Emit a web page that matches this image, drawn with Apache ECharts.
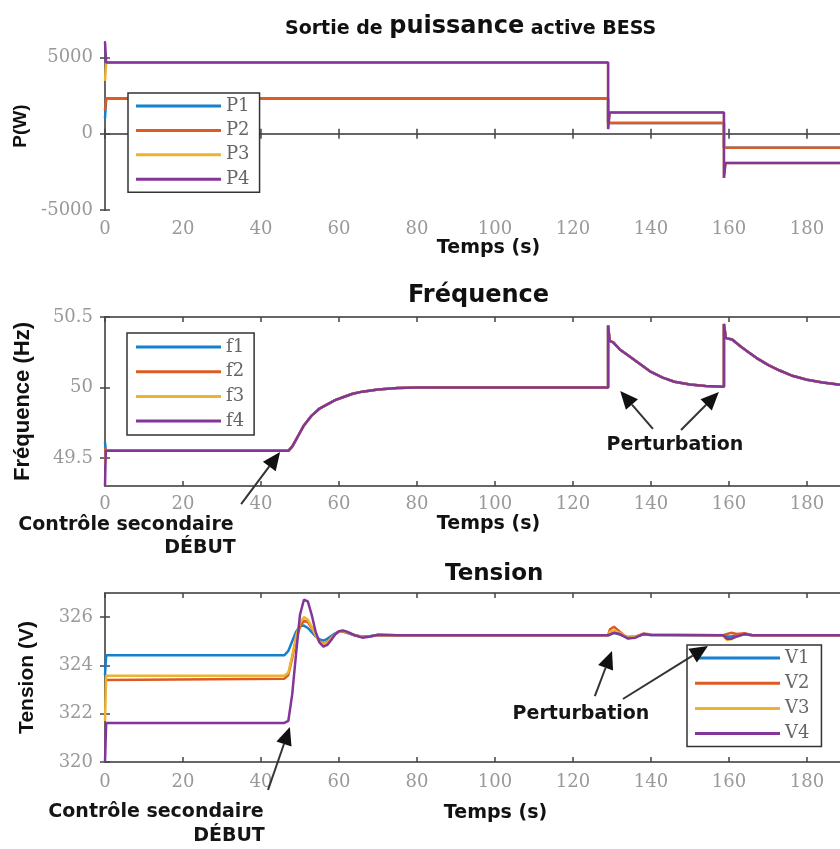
<!DOCTYPE html>
<html>
<head>
<meta charset="utf-8">
<script src="https://cdn.jsdelivr.net/npm/echarts@6/dist/echarts.min.js"></script>
<style>
  html, body { margin: 0; padding: 0; overflow: hidden; background: #fff; }
  #chart { width: 900px; height: 849px; }
</style>
</head>
<body>
<div id="chart"></div>
<script>
// couleurs MATLAB
const colors = ['#1580cc', '#dd5a22', '#edb22f', '#84359a'];

// axe des temps
const xTicks = [0, 20, 40, 60, 80, 100, 120, 140, 160, 180];

// puissance active (W)
const tP12 = [0, 0.3, 129, 129, 158.7, 158.7, 190];
const p1 = [1000, 2300, 2300, 700, 700, -930, -930];
const p2 = [1500, 2300, 2300, 700, 700, -930, -930];
const tP34 = [0, 0.3, 129, 129, 129.4, 158.7, 158.7, 159.1, 190];
const p3 = [3450, 4650, 4650, 300, 1380, 1380, -2900, -1930, -1930];
const p4 = [6000, 4650, 4650, 300, 1380, 1380, -2900, -1930, -1930];
const pTicks = [-5000, 0, 5000];

// fréquence (Hz)
const fStart = [49.61, 49.575, 49.45, 49.3];
const tF = [0.2, 47, 48, 49, 50, 51, 53, 55, 57, 59, 61, 63.5, 66, 70, 75, 80, 90,
  129, 129, 129.4, 130.3, 132, 134, 137, 140, 143, 146, 150, 154, 158.7,
  158.7, 159.2, 160.8, 163, 165, 167, 170, 173, 176, 180, 184, 188, 190];
const fVal = [49.55, 49.55, 49.58, 49.63, 49.68, 49.73, 49.8, 49.85, 49.88, 49.91, 49.93, 49.955, 49.97, 49.985, 49.995, 50, 50,
  50, 50.44, 50.33, 50.32, 50.27, 50.23, 50.17, 50.11, 50.07, 50.04, 50.02, 50.01, 50.005,
  50.45, 50.35, 50.34, 50.29, 50.25, 50.21, 50.16, 50.12, 50.085, 50.055, 50.035, 50.02, 50.015];
const fTicks = [49.5, 50, 50.5];

// tension (V)
const tV = [0, 0.3, 46, 47, 48, 49, 50, 51, 52, 53, 54, 55, 56, 57, 58, 59, 60, 61, 62, 64, 66, 68, 70, 75,
  129, 129.5, 130.5, 132, 134, 136, 138, 140, 158.5, 159.5, 160.5, 162, 164, 166, 190];
const v1 = [323.6, 324.42, 324.42, 324.6, 325.0, 325.4, 325.62, 325.65, 325.55, 325.38, 325.2, 325.08, 325.03, 325.1, 325.22, 325.33, 325.4, 325.4, 325.35, 325.25, 325.2, 325.22, 325.26, 325.25,
  325.25, 325.3, 325.35, 325.28, 325.18, 325.2, 325.28, 325.26, 325.25, 325.2, 325.2, 325.25, 325.28, 325.25, 325.25];
const v2 = [323.4, 323.45, 323.45, 323.6, 324.3, 325.1, 325.6, 325.85, 325.8, 325.55, 325.25, 325.0, 324.9, 324.98, 325.15, 325.3, 325.4, 325.42, 325.38, 325.25, 325.18, 325.2, 325.26, 325.25,
  325.25, 325.5, 325.6, 325.4, 325.13, 325.18, 325.32, 325.28, 325.25, 325.3, 325.35, 325.3, 325.33, 325.25, 325.25];
const v3 = [321.7, 323.57, 323.57, 323.7, 324.4, 325.2, 325.75, 326.0, 325.9, 325.6, 325.25, 324.98, 324.88, 324.95, 325.12, 325.3, 325.4, 325.43, 325.38, 325.25, 325.18, 325.2, 325.26, 325.25,
  325.25, 325.4, 325.45, 325.35, 325.15, 325.18, 325.3, 325.27, 325.25, 325.05, 325.08, 325.2, 325.3, 325.25, 325.25];
const v4 = [320.0, 321.62, 321.62, 321.7, 322.8, 324.5, 326.1, 326.72, 326.65, 326.1, 325.4, 324.95, 324.78, 324.85, 325.05, 325.28, 325.42, 325.45, 325.4, 325.25, 325.15, 325.2, 325.27, 325.25,
  325.25, 325.3, 325.35, 325.3, 325.12, 325.15, 325.3, 325.26, 325.25, 325.1, 325.1, 325.2, 325.3, 325.25, 325.25];
const vTicks = [320, 322, 324, 326];

// flèches d'annotation [gridIndex, départ, pointe] en coordonnées des données
const arrows = [
  [1, [34.9, 49.172], [44.9, 49.541]],
  [1, [140.5, 49.705], [132.1, 49.975]],
  [1, [147.7, 49.698], [157.4, 49.967]],
  [2, [41.8, 318.84], [47.4, 321.45]],
  [2, [125.6, 322.73], [130.0, 324.6]],
  [2, [132.8, 322.61], [154.6, 324.8]]
];

const zip = (t, v) => t.map((x, i) => [x, v[i]]);

const chart = echarts.init(document.getElementById('chart'));

const serif = 'DejaVu Serif';
const sans = 'DejaVu Sans';
const grids = [
  { left: 105, top: 42, width: 741, height: 168 },
  { left: 105, top: 317, width: 741, height: 169 },
  { left: 105, top: 593, width: 741, height: 169 }
];

const tickStyle = { inside: true, length: 5, lineStyle: { color: '#444', width: 1.5 } };
const lineAxis = { lineStyle: { color: '#666', width: 2 } };
const plain = v => String(v);

const bottomX = (g, nameGap, margin, shift) => ({
  type: 'value', gridIndex: g, position: 'bottom', min: 0, max: 190,
  name: 'Temps (s)', nameLocation: 'middle', nameGap,
  nameTextStyle: { fontFamily: sans, fontWeight: 'bold', fontSize: 19, color: '#111', padding: [0, 0, 0, shift] },
  axisLine: lineAxis,
  axisTick: Object.assign({ customValues: xTicks }, tickStyle),
  axisLabel: { customValues: xTicks, margin, fontFamily: serif, fontSize: 18, color: '#999', formatter: plain },
  splitLine: { show: false }
});
const topX = g => ({
  type: 'value', gridIndex: g, position: 'top', min: 0, max: 190,
  axisLine: lineAxis,
  axisTick: Object.assign({ customValues: xTicks }, tickStyle),
  axisLabel: { show: false }, splitLine: { show: false }
});
const leftY = (g, min, max, ticks, name, nameGap, nameSize) => ({
  type: 'value', gridIndex: g, position: 'left', min, max,
  name, nameLocation: 'middle', nameGap,
  nameTextStyle: { fontFamily: 'Liberation Sans', fontWeight: 'bold', fontSize: nameSize, color: '#111' },
  axisLine: Object.assign({ show: true }, lineAxis),
  axisTick: Object.assign({ show: true, customValues: ticks }, tickStyle),
  axisLabel: { customValues: ticks, margin: 12, fontFamily: serif, fontSize: 18, color: '#999', formatter: plain },
  splitLine: { show: false }
});
const rightY = (g, min, max, ticks) => ({
  type: 'value', gridIndex: g, position: 'right', min, max,
  axisLine: Object.assign({ show: true }, lineAxis),
  axisTick: Object.assign({ show: true, customValues: ticks }, tickStyle),
  axisLabel: { show: false }, splitLine: { show: false }
});

const legendBase = {
  orient: 'vertical', icon: 'rect', itemWidth: 85, itemHeight: 3,
  borderColor: '#333', borderWidth: 1.5, backgroundColor: '#fff',
  selectedMode: false, z: 10,
  textStyle: { fontFamily: serif, fontSize: 18, color: '#666', lineHeight: 20 }
};

const line = (name, x, y, data, color) => ({
  name, type: 'line', xAxisIndex: x, yAxisIndex: y, data,
  showSymbol: false, symbol: 'none', color,
  lineStyle: { color, width: 2.5 }, animation: false
});

const fNames = ['f1', 'f2', 'f3', 'f4'];
const fSeries = fNames.map((n, i) => line(n, 1, 1, [[0, fStart[i]]].concat(zip(tF, fVal)), colors[i]));

chart.setOption({
  animation: false,
  title: [
    {
      text: '{a|Sortie de }{b|puissance}{a| active BESS}', left: 280, top: 6,
      textStyle: { rich: {
        a: { fontFamily: sans, fontWeight: 'bold', fontSize: 19, color: '#111', verticalAlign: 'bottom', lineHeight: 28 },
        b: { fontFamily: sans, fontWeight: 'bold', fontSize: 24, color: '#111', verticalAlign: 'bottom', lineHeight: 28 }
      } }
    },
    { text: 'Fréquence', left: 403, top: 279, textStyle: { fontFamily: sans, fontWeight: 'bold', fontSize: 24, color: '#111' } },
    { text: 'Tension', left: 440, top: 558, textStyle: { fontFamily: sans, fontWeight: 'bold', fontSize: 23, color: '#111' } }
  ],
  grid: grids,
  xAxis: [bottomX(0, 27, 10, 26), bottomX(1, 29, 9, 26), bottomX(2, 42, 11, 40), topX(0), topX(1), topX(2)],
  yAxis: [
    leftY(0, -5000, 6000, pTicks, 'P(W)', 70, 19),
    leftY(1, 49.3, 50.5, fTicks, 'Fréquence (Hz)', 71, 22),
    leftY(2, 320, 327, vTicks, 'Tension (V)', 67, 21),
    rightY(0, -5000, 6000, pTicks), rightY(1, 49.3, 50.5, fTicks), rightY(2, 320, 327, vTicks)
  ],
  legend: [
    Object.assign({}, legendBase, { data: ['P1', 'P2', 'P3', 'P4'], left: 128, top: 93, padding: [3, 10, 3, 8], itemGap: 4.4 }),
    Object.assign({}, legendBase, { data: fNames, left: 127, top: 333, padding: [4, 10, 4, 9], itemGap: 4.7 }),
    Object.assign({}, legendBase, { data: ['V1', 'V2', 'V3', 'V4'], left: 687, top: 645, padding: [3, 12, 3, 8], itemGap: 5.2 })
  ],
  series: [
    line('P1', 0, 0, zip(tP12, p1), colors[0]),
    line('P2', 0, 0, zip(tP12, p2), colors[1]),
    line('P3', 0, 0, zip(tP34, p3), colors[2]),
    line('P4', 0, 0, zip(tP34, p4), colors[3]),
    ...fSeries,
    line('V1', 2, 2, zip(tV, v1), colors[0]),
    line('V2', 2, 2, zip(tV, v2), colors[1]),
    line('V3', 2, 2, zip(tV, v3), colors[2]),
    line('V4', 2, 2, zip(tV, v4), colors[3])
  ]
});

// flèches et textes d'annotation
const graphics = [];
arrows.forEach(([g, from, to]) => {
  const a = chart.convertToPixel({ xAxisIndex: g, yAxisIndex: g }, from);
  const b = chart.convertToPixel({ xAxisIndex: g, yAxisIndex: g }, to);
  const dx = b[0] - a[0], dy = b[1] - a[1];
  const L = Math.hypot(dx, dy), ux = dx / L, uy = dy / L;
  const hl = 18, hw = 8;
  const bx = b[0] - ux * hl, by = b[1] - uy * hl;
  graphics.push({ type: 'line', z: 20, shape: { x1: a[0], y1: a[1], x2: bx, y2: by }, style: { stroke: '#333', lineWidth: 2 } });
  graphics.push({ type: 'polygon', z: 20, shape: { points: [[b[0], b[1]], [bx - uy * hw, by + ux * hw], [bx + uy * hw, by - ux * hw]] }, style: { fill: '#111' } });
});
const label = (text, x, y) => ({
  type: 'text', x, y, z: 20,
  style: { text, font: 'bold 19px "DejaVu Sans"', fill: '#151515', align: 'center', verticalAlign: 'middle' }
});
graphics.push(
  label('Contrôle secondaire', 126, 525), label('DÉBUT', 200, 548),
  label('Perturbation', 675, 445),
  label('Perturbation', 581, 714),
  label('Contrôle secondaire', 156, 812), label('DÉBUT', 229, 836)
);
chart.setOption({ graphic: graphics });

window.addEventListener('resize', () => chart.resize());
</script>
</body>
</html>
